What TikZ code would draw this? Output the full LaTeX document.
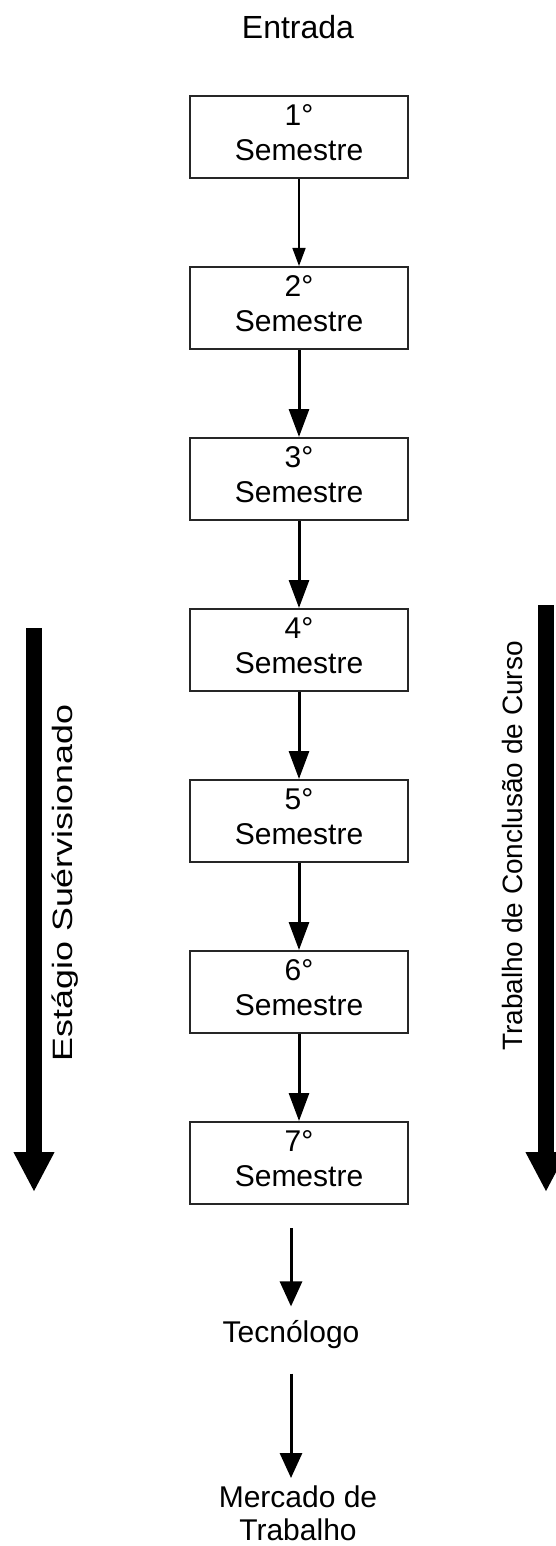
\documentclass[tikz,border=0pt]{standalone}
\usepackage{fontspec}
\setmainfont{Liberation Sans}
\usetikzlibrary{positioning,arrows.meta}

\begin{document}
\begin{tikzpicture}[x=1pt,y=1pt,>={Triangle[length=28pt,width=20pt]},line width=3pt,node distance=171pt,on grid,
    sem node/.style={rectangle,draw=black!85,line width=2pt,minimum width=218pt,minimum height=82pt,inner sep=0pt,align=center,text depth=8pt,font=\fontsize{30}{35}\selectfont},
    label node/.style={inner sep=0pt,align=center,font=\fontsize{30}{33}\selectfont},
    side node/.style={inner sep=0pt,anchor=base,rotate=90,font=\fontsize{28}{32}\selectfont},
    big arrow/.style={line width=16pt,-{Triangle[length=40pt,width=38pt]}}]
    \useasboundingbox (0,0) rectangle (555,-1546);

    \node[label node,anchor=base,font=\fontsize{32}{36}\selectfont] (in) at (298,-39) {Entrada};
    \node[sem node] (s1) at (299,-137) {1°\\Semestre};
    \node[sem node] (s2) [below=of s1] {2°\\Semestre};
    \node[sem node] (s3) [below=of s2] {3°\\Semestre};
    \node[sem node] (s4) [below=of s3] {4°\\Semestre};
    \node[sem node] (s5) [below=of s4] {5°\\Semestre};
    \node[sem node] (s6) [below=of s5] {6°\\Semestre};
    \node[sem node] (s7) [below=of s6] {7°\\Semestre};
    \node[label node,anchor=base] (tec) at (291,-1342) {Tecnólogo};
    \node[label node,anchor=north] (merc) at (298,-1484) {Mercado de\\Trabalho};

    \node[side node,xscale=1.28] (est) at (72,-883) {Estágio Suérvisionado};
    \node[side node] (tcc) at (522,-846) {Trabalho de Conclusão de Curso};

    \coordinate (est top) at (34,-628);
    \coordinate (est end) at (34,-1192);
    \coordinate (tcc top) at (546,-605);
    \coordinate (tcc end) at (546,-1192);
    \draw[big arrow] (est top) -- (est end);
    \draw[big arrow] (tcc top) -- (tcc end);

    \path[->]
        (s1) edge[line width=1.6pt,-{Triangle[length=18pt,width=13pt]}] (s2)
        (s2) edge (s3)
        (s3) edge (s4)
        (s4) edge (s5)
        (s5) edge (s6)
        (s6) edge (s7)
    ;
    \path[-{Triangle[length=25pt,width=22pt]}]
        (s7.south -| tec) edge[shorten <=23pt,shorten >=12pt] (tec.north)
        (tec.south) edge[shorten <=24pt,shorten >=6pt] (tec.south |- merc.north)
    ;
\end{tikzpicture}
\end{document}
